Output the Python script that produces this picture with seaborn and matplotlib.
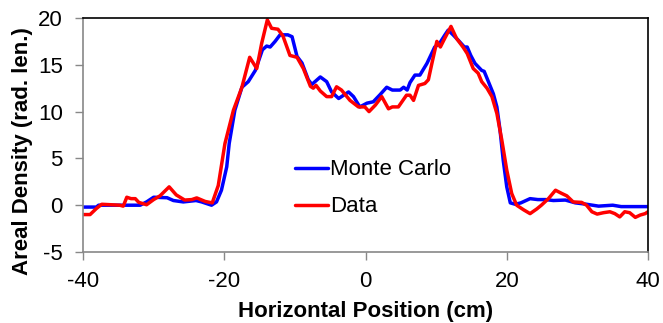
import matplotlib
matplotlib.use("Agg")
import matplotlib.pyplot as plt
import seaborn as sns
import pandas as pd

# Simulated areal density profile (Monte Carlo)
mc_x = [-40, -38.1, -37.8, -31.9, -31.0, -30.0, -28.1, -27.2, -25.8, -24.0,
        -23.2, -21.8, -21.1, -20.4, -19.65, -19.3, -18.5, -17.5, -16.6, -15.6,
        -14.6, -14.0, -13.5, -12.8, -12.1, -11.0, -10.4, -9.7, -9.0, -8.1,
        -7.6, -6.4, -5.5, -4.8, -3.8, -2.4, -1.7, -0.8, 0.2, 1.1,
        2.05, 3.0, 3.8, 4.9, 5.4, 5.9, 6.3, 7.0, 7.7, 8.7,
        9.8, 10.5, 11.25, 11.7, 12.4, 13.1, 14.0, 14.4, 14.9, 15.5,
        16.45, 16.8, 17.4, 18.1, 18.6, 19.05, 19.5, 20.0, 20.5, 21.2,
        22.0, 23.3, 24.4, 25.5, 26.6, 28.3, 29.7, 31.3, 33.0, 35.0,
        36.2, 40]
mc_y = [-0.2, -0.2, 0.0, 0.0, 0.35, 0.85, 0.8, 0.5, 0.35, 0.5,
        0.35, 0.0, 0.35, 1.6, 4.1, 6.6, 10.15, 12.6, 13.2, 14.4,
        16.6, 17.0, 16.9, 17.5, 18.2, 18.2, 18.0, 15.9, 15.2, 13.4,
        12.9, 13.7, 13.2, 12.1, 11.4, 12.1, 11.6, 10.5, 10.9, 11.05,
        11.8, 12.6, 12.3, 12.3, 12.6, 12.3, 13.1, 13.9, 13.9, 15.15,
        16.9, 17.3, 18.2, 18.7, 18.2, 17.65, 16.9, 16.9, 16.0, 15.15,
        14.4, 14.3, 13.2, 11.9, 10.5, 8.0, 4.8, 1.96, 0.25, 0.1,
        0.25, 0.7, 0.6, 0.6, 0.5, 0.55, 0.25, 0.1, -0.1, 0.0,
        -0.15, -0.15]

# Measured areal density profile
data_x = [-40, -39.0, -38.1, -37.35, -34.8, -34.3, -33.8, -33.2, -32.6, -32.1,
          -31.0, -30.0, -29.1, -27.8, -26.8, -25.6, -24.6, -23.9, -22.7, -21.7,
          -20.85, -19.9, -18.7, -17.5, -16.4, -15.4, -14.7, -13.9, -13.3, -12.4,
          -11.7, -10.7, -9.7, -8.8, -7.8, -7.4, -7.0, -6.4, -5.5, -4.8,
          -4.1, -3.4, -2.2, -1.0, -0.1, 0.5, 1.4, 2.3, 3.25, 3.8,
          4.65, 5.8, 6.3, 6.8, 7.5, 8.4, 8.9, 9.4, 10.1, 10.6,
          11.1, 12.1, 12.9, 13.8, 14.4, 15.25, 15.95, 16.45, 17.2, 17.9,
          18.6, 19.3, 20.0, 20.7, 21.4, 22.4, 23.3, 24.25, 24.9, 25.9,
          26.9, 27.8, 28.5, 29.4, 30.6, 31.3, 32.05, 32.8, 33.7, 34.6,
          35.3, 36.0, 36.7, 37.4, 38.2, 38.9, 39.6, 40]
data_y = [-1.0, -1.0, -0.35, 0.1, 0.0, -0.1, 0.85, 0.7, 0.7, 0.3,
          0.05, 0.6, 1.0, 1.96, 1.1, 0.55, 0.6, 0.78, 0.4, 0.25,
          2.1, 6.6, 10.15, 12.6, 15.8, 14.6, 17.3, 19.8, 18.9, 18.8,
          18.1, 16.0, 15.8, 14.6, 12.7, 12.5, 12.8, 12.2, 11.6, 11.6,
          12.65, 12.3, 11.2, 10.5, 10.5, 10.0, 10.7, 11.6, 10.3, 10.5,
          10.5, 11.75, 11.75, 11.2, 12.8, 13.0, 13.4, 15.15, 17.5, 16.9,
          17.65, 19.1, 17.8, 16.9, 16.2, 14.6, 14.1, 13.2, 12.5, 11.6,
          9.8, 6.95, 3.75, 1.25, 0.0, -0.5, -0.9, -0.4, 0.0, 0.7,
          1.6, 1.25, 1.0, 0.35, 0.3, 0.0, -0.7, -0.95, -0.8, -0.7,
          -0.9, -1.25, -0.7, -0.8, -1.3, -1.05, -0.9, -0.7]

series_names = ["Monte Carlo", "Data"]
series_colors = ["#0000FF", "#FF0000"]
x_ticks = [-40, -20, 0, 20, 40]
y_ticks = [-5, 0, 5, 10, 15, 20]

df = pd.concat([
    pd.DataFrame({"x": mc_x, "y": mc_y, "series": series_names[0]}),
    pd.DataFrame({"x": data_x, "y": data_y, "series": series_names[1]}),
], ignore_index=True)

sns.set_theme(style="white")
plt.rcParams["font.family"] = ["Liberation Sans", "DejaVu Sans"]
plt.rcParams["axes.unicode_minus"] = False
plt.rcParams["text.color"] = "black"
plt.rcParams["axes.labelcolor"] = "black"
plt.rcParams["xtick.color"] = "black"
plt.rcParams["ytick.color"] = "black"

fig = plt.figure(figsize=(6.63, 3.23), dpi=100)
ax = fig.add_axes([0.1252, 0.2198, 0.8522, 0.7245])

sns.lineplot(data=df, x="x", y="y", hue="series", hue_order=series_names,
             palette=series_colors, sort=False, estimator=None,
             linewidth=2.5, ax=ax)

ax.set_xlim(-40, 40)
ax.set_ylim(-5, 20)
ax.set_xticks(x_ticks)
ax.set_yticks(y_ticks)
ax.tick_params(axis="both", which="major", direction="out", length=6,
               width=1.0, color="#888888", labelsize=16, labelcolor="black",
               left=True, bottom=True)
ax.tick_params(axis="y", pad=8.5)
ax.tick_params(axis="x", pad=8)

for side in ("left", "bottom"):
    ax.spines[side].set_color("#888888")
    ax.spines[side].set_linewidth(1.2)
for side in ("top", "right"):
    ax.spines[side].set_color("black")
    ax.spines[side].set_linewidth(1.2)
    ax.spines[side].set_visible(True)

ax.set_xlabel("Horizontal Position (cm)", fontsize=16, fontweight="bold",
              labelpad=6, color="black")
ax.set_ylabel("Areal Density (rad. len.)", fontsize=16, fontweight="bold",
              color="black")
ax.yaxis.set_label_coords(-0.088, 0.43)

leg = ax.legend(loc="center left", bbox_to_anchor=(0.375, 0.272),
                frameon=False, fontsize=16, handlelength=1.49,
                handletextpad=0.1, labelspacing=0.72, borderpad=0,
                borderaxespad=0)
for line in leg.get_lines():
    line.set_linewidth(2.5)
for text in leg.get_texts():
    text.set_color("black")

fig.savefig("out.png", dpi=100)
